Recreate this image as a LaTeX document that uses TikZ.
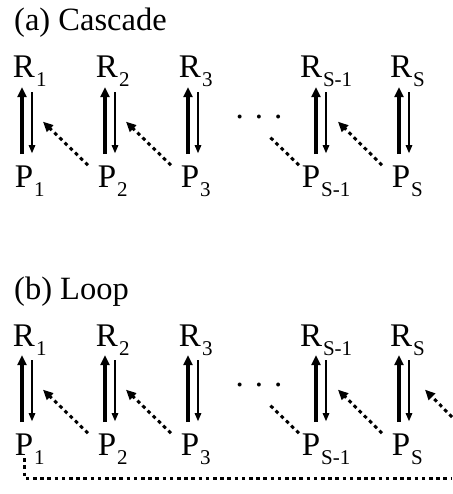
\documentclass[tikz,border=0pt]{standalone}
\usepackage{fontspec}
\setmainfont{Liberation Serif}
\usepackage{tikz}
\usetikzlibrary{
	calc,
	positioning,
	arrows.meta
}

\newcommand{\idx}[1]{\rlap{\kern1pt\smash{\raisebox{-9pt}{\fontsize{21}{21}\selectfont #1}}}}

\begin{document}
\begin{tikzpicture}[
				x=10pt, y=-10pt,
				title/.style={anchor=base west, inner sep=0pt, font=\fontsize{32.5}{36}\selectfont},
				species/.style={anchor=base, inner sep=0pt, font=\fontsize{33}{36}\selectfont},
				forward/.style={line width=3.6pt, -{Triangle[length=10pt, width=9pt]}, shorten <=11pt, shorten >=9pt},
				backward/.style={line width=1.3pt, -{Triangle[length=8pt, width=6.5pt]}, shorten <=14pt, shorten >=12pt},
				feedline/.style={line width=3pt, dash pattern=on 3.6pt off 3.6pt},
				feed/.style={feedline, -{Triangle[length=10pt, width=9pt]}}
			]
				\useasboundingbox (0,0) rectangle (45.2,49.4);

				% (a) 级联
				\node[title] (titleA) at (1.4, 3.1) {(a) Cascade};

				% 物种
				\node[species] (Ra1)  at ( 2.4, 7.8) {R\idx{1}};
				\node[species] (Ra2)  at (10.7, 7.8) {R\idx{2}};
				\node[species] (Ra3)  at (19.0, 7.8) {R\idx{3}};
				\node[species] (RaSm) at (31.1, 7.8) {R\idx{S-1}};
				\node[species] (RaS)  at (40.1, 7.8) {R\idx{S}};
				\node[species] (Pa1)  at ( 2.4,18.7) {P\idx{1}};
				\node[species] (Pa2)  at (10.7,18.7) {P\idx{2}};
				\node[species] (Pa3)  at (19.0,18.7) {P\idx{3}};
				\node[species] (PaSm) at (31.1,18.7) {P\idx{S-1}};
				\node[species] (PaS)  at (40.1,18.7) {P\idx{S}};
				\node[species] (dotsA) at (25.9,11.85) {. . .};

				% 正反应 / 逆反应
				\draw[forward]  ([xshift=-2pt]Pa1.north)  -- ([xshift=-2pt]Ra1.south);
				\draw[backward] ([xshift=8pt]Ra1.south)   -- ([xshift=8pt]Pa1.north);
				\draw[forward]  ([xshift=-2pt]Pa2.north)  -- ([xshift=-2pt]Ra2.south);
				\draw[backward] ([xshift=8pt]Ra2.south)   -- ([xshift=8pt]Pa2.north);
				\draw[forward]  ([xshift=-2pt]Pa3.north)  -- ([xshift=-2pt]Ra3.south);
				\draw[backward] ([xshift=8pt]Ra3.south)   -- ([xshift=8pt]Pa3.north);
				\draw[forward]  ([xshift=5pt]PaSm.north)  -- ([xshift=5pt]RaSm.south);
				\draw[backward] ([xshift=15pt]RaSm.south) -- ([xshift=15pt]PaSm.north);
				\draw[forward]  ([xshift=-2pt]PaS.north)  -- ([xshift=-2pt]RaS.south);
				\draw[backward] ([xshift=8pt]RaS.south)   -- ([xshift=8pt]PaS.north);

				% 催化
				\draw[feed] ($(Pa2.north)+(-19pt,0)$) -- ($(Ra1.south)!0.5!(Pa1.north)+(19pt,0)$);
				\draw[feed] ($(Pa3.north)+(-19pt,0)$) -- ($(Ra2.south)!0.5!(Pa2.north)+(19pt,0)$);
				\draw[feed] ($(PaS.north)+(-19pt,0)$) -- ($(RaSm.south)!0.5!(PaSm.north)+(27pt,0)$);
				\draw[feedline] ($(PaSm.north)+(-12pt,0)$) -- ++(-29pt,28pt);

				% (b) 环
				\begin{scope}[yshift=-268pt]
				\node[title] (titleB) at (1.4, 3.1) {(b) Loop};

				\node[species] (Rb1)  at ( 2.4, 7.8) {R\idx{1}};
				\node[species] (Rb2)  at (10.7, 7.8) {R\idx{2}};
				\node[species] (Rb3)  at (19.0, 7.8) {R\idx{3}};
				\node[species] (RbSm) at (31.1, 7.8) {R\idx{S-1}};
				\node[species] (RbS)  at (40.1, 7.8) {R\idx{S}};
				\node[species] (Pb1)  at ( 2.4,18.7) {P\idx{1}};
				\node[species] (Pb2)  at (10.7,18.7) {P\idx{2}};
				\node[species] (Pb3)  at (19.0,18.7) {P\idx{3}};
				\node[species] (PbSm) at (31.1,18.7) {P\idx{S-1}};
				\node[species] (PbS)  at (40.1,18.7) {P\idx{S}};
				\node[species] (dotsB) at (25.9,11.85) {. . .};
				\end{scope}

				\draw[forward]  ([xshift=-2pt]Pb1.north)  -- ([xshift=-2pt]Rb1.south);
				\draw[backward] ([xshift=8pt]Rb1.south)   -- ([xshift=8pt]Pb1.north);
				\draw[forward]  ([xshift=-2pt]Pb2.north)  -- ([xshift=-2pt]Rb2.south);
				\draw[backward] ([xshift=8pt]Rb2.south)   -- ([xshift=8pt]Pb2.north);
				\draw[forward]  ([xshift=-2pt]Pb3.north)  -- ([xshift=-2pt]Rb3.south);
				\draw[backward] ([xshift=8pt]Rb3.south)   -- ([xshift=8pt]Pb3.north);
				\draw[forward]  ([xshift=5pt]PbSm.north)  -- ([xshift=5pt]RbSm.south);
				\draw[backward] ([xshift=15pt]RbSm.south) -- ([xshift=15pt]PbSm.north);
				\draw[forward]  ([xshift=-2pt]PbS.north)  -- ([xshift=-2pt]RbS.south);
				\draw[backward] ([xshift=8pt]RbS.south)   -- ([xshift=8pt]PbS.north);

				\draw[feed] ($(Pb2.north)+(-19pt,0)$) -- ($(Rb1.south)!0.5!(Pb1.north)+(19pt,0)$);
				\draw[feed] ($(Pb3.north)+(-19pt,0)$) -- ($(Rb2.south)!0.5!(Pb2.north)+(19pt,0)$);
				\draw[feed] ($(PbS.north)+(-19pt,0)$) -- ($(RbSm.south)!0.5!(PbSm.north)+(27pt,0)$);
				\draw[feedline] ($(PbSm.north)+(-12pt,0)$) -- ++(-29pt,28pt);

				% 回路
				\coordinate (loopout) at (45.2,47.8);
				\coordinate (loopin)  at (45.2,41.7);
				\draw[feedline, shorten <=3pt] (Pb1.south) |- (loopout);
				\draw[feed] (loopin) -- ($(RbS.south)!0.5!(PbS.north)+(24pt,0)$);
			\end{tikzpicture}
\end{document}
